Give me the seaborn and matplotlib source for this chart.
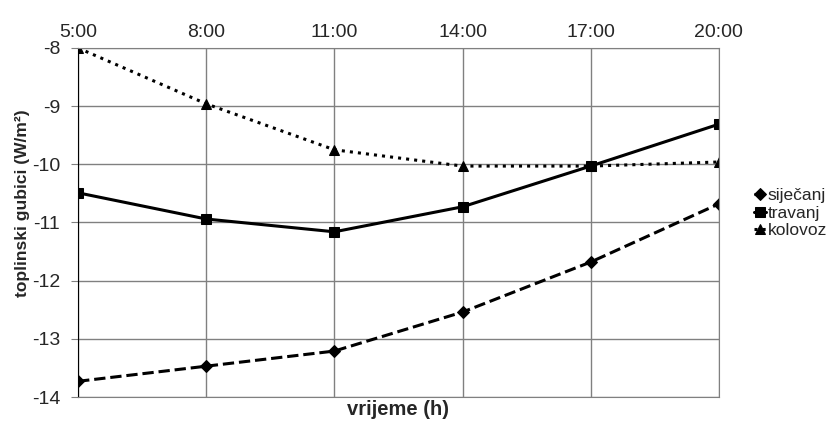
import pandas as pd
import matplotlib.pyplot as plt
import seaborn as sns
import numpy as np

sati = ["5:00", "8:00", "11:00", "14:00", "17:00", "20:00"]
sijecanj = [-13.73, -13.47, -13.21, -12.54, -11.68, -10.68]
travanj = [-10.49, -10.94, -11.16, -10.73, -10.03, -9.31]
kolovoz = [-8.0, -8.96, -9.75, -10.03, -10.03, -9.96]

df = pd.DataFrame({"x": np.arange(len(sati)),
                   "siječanj": sijecanj, "travanj": travanj, "kolovoz": kolovoz})

sns.set_style("white")
plt.rcParams['font.family'] = ['Liberation Sans', 'DejaVu Sans']
plt.rcParams['axes.unicode_minus'] = False

fig = plt.figure(figsize=(8.31, 4.21), dpi=100)
ax = fig.add_axes([0.094, 0.057, 0.771, 0.829])

stilovi = {"siječanj": ("--", "D", 6.5), "travanj": ("-", "s", 7), "kolovoz": (":", "^", 7.5)}
for ime, (ls, mk, ms) in stilovi.items():
    sns.lineplot(data=df, x="x", y=ime, ax=ax, color="black", linewidth=2.2,
                 linestyle=ls, marker=mk, markersize=ms, markeredgecolor="black",
                 label=ime)

ax.set_xlim(0, 5)
ax.set_ylim(-14, -8)
ax.set_xticks(range(len(sati)))
ax.set_xticklabels(sati)
ax.xaxis.tick_top()
ax.tick_params(axis="x", length=0, labelsize=14, pad=5)
ax.tick_params(axis="y", length=5, left=True, color="#808080", labelsize=14, pad=8)
ax.grid(True, color="#808080", linewidth=1)
for s in ax.spines.values():
    s.set_color("#808080")
ax.spines["left"].set_color("black")

ax.set_xlabel("vrijeme (h)", fontsize=14.5, fontweight="bold", labelpad=2)
ax.xaxis.set_label_position("bottom")
ax.set_ylabel("toplinski gubici (W/m²)", fontsize=12.5, fontweight="bold")
ax.yaxis.set_label_coords(-0.075, 0.556)

ax.legend(loc="center left", bbox_to_anchor=(1.0, 0.527), frameon=False,
          fontsize=12.5, handlelength=0.7, handletextpad=0.1, labelspacing=0.12,
          borderaxespad=1.6)

plt.savefig("out.png", dpi=100)
